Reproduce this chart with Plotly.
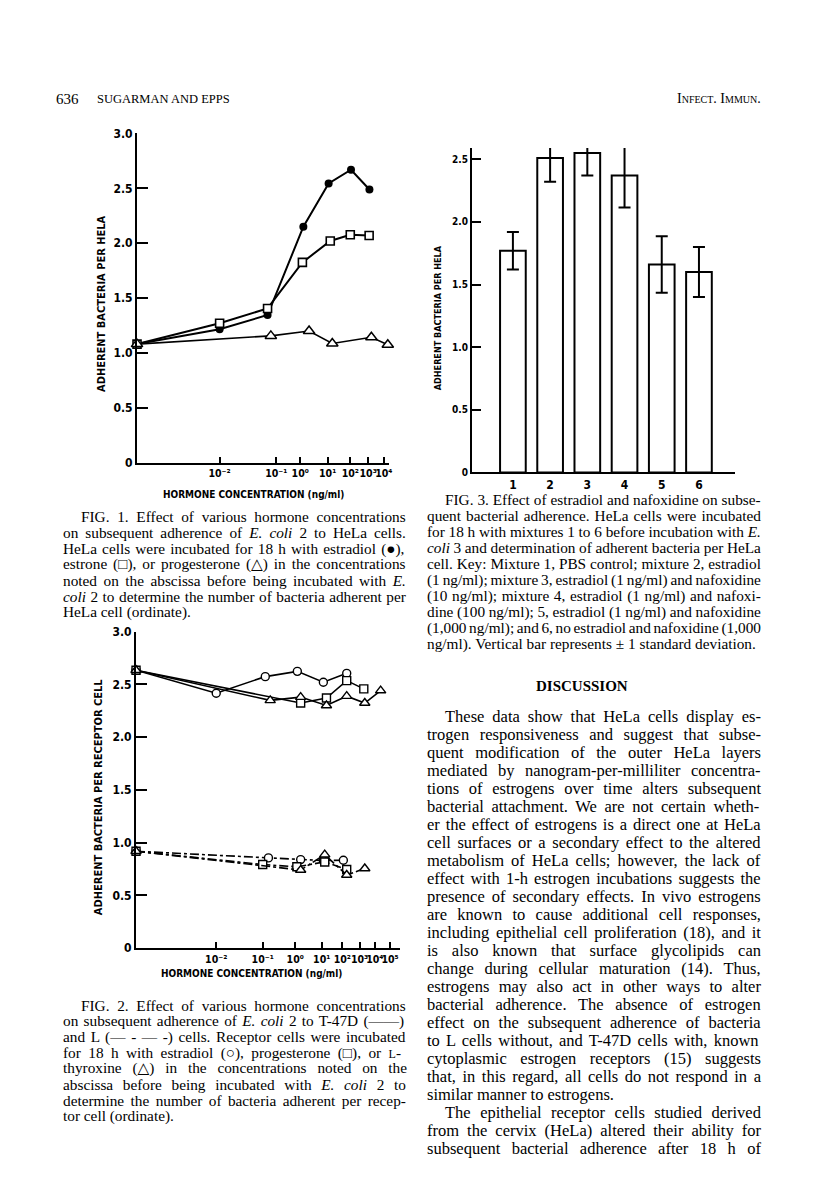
import re
import numpy as np
import plotly.graph_objects as go

# ====================== DATA ======================
# FIG. 1  HeLa cells; hormone concentration in ng/ml (0 = control)
fig1_estradiol_conc = [0, 0.01, 0.07, 1.3, 11, 110, 1200]
fig1_estradiol_adh = [1.08, 1.215, 1.345, 2.15, 2.545, 2.67, 2.49]
fig1_estrone_conc = [0, 0.01, 0.07, 1.2, 13, 100, 1150]
fig1_estrone_adh = [1.08, 1.27, 1.405, 1.825, 2.02, 2.077, 2.07]
fig1_progesterone_conc = [0, 0.08, 2.1, 16, 1600, 18000]
fig1_progesterone_adh = [1.08, 1.155, 1.20, 1.086, 1.143, 1.075]

# FIG. 2  T-47D (solid) and L (dash-dot) cells
fig2_t47d_estradiol_conc = [0, 0.01, 0.12, 1.2, 12, 180]
fig2_t47d_estradiol_adh = [2.634, 2.416, 2.573, 2.623, 2.52, 2.604]
fig2_t47d_progesterone_conc = [0, 1.6, 17, 180, 1900]
fig2_t47d_progesterone_adh = [2.634, 2.323, 2.37, 2.535, 2.457]
fig2_t47d_thyroxine_conc = [0, 0.17, 1.6, 17, 180, 2200, 24000]
fig2_t47d_thyroxine_adh = [2.634, 2.348, 2.379, 2.30, 2.388, 2.323, 2.441]
fig2_l_estradiol_conc = [0, 0.15, 1.6, 12, 115]
fig2_l_estradiol_adh = [0.918, 0.855, 0.839, 0.83, 0.833]
fig2_l_progesterone_conc = [0, 0.1, 1.15, 14, 180]
fig2_l_progesterone_adh = [0.918, 0.792, 0.771, 0.817, 0.745]
fig2_l_thyroxine_conc = [0, 1.6, 14, 180, 2200]
fig2_l_thyroxine_adh = [0.918, 0.74, 0.886, 0.693, 0.755]

# FIG. 3  estradiol / nafoxidine mixtures
fig3_mixtures = ["1", "2", "3", "4", "5", "6"]
fig3_mean = [1.77, 2.51, 2.55, 2.37, 1.66, 1.60]
fig3_sd = [0.15, 0.19, 0.18, 0.255, 0.225, 0.20]

# tick labels
fig1_tick_exponents = [-2, -1, 0, 1, 2, 3, 4]
fig2_tick_exponents = [-2, -1, 0, 1, 2, 3, 4, 5]
adh_ticks_12 = [0, 0.5, 1.0, 1.5, 2.0, 2.5, 3.0]
adh_ticks_3 = [0, 0.5, 1.0, 1.5, 2.0, 2.5]

# ====================== LAYOUT CONSTANTS ======================
W, H = 816, 1194
# the original abscissa is hand-drawn and not uniformly logarithmic:
# axis units at which each decade tick sits
FIG1_TICK_POS = [83, 140, 164, 191.6, 214.3, 232.3, 248]
FIG1_XMAX = 253
FIG2_TICK_POS = [80.6, 127.3, 160, 186.6, 207.3, 224.6, 240, 255.3]
FIG2_XMAX = 265

SANS = "Liberation Sans Narrow, DejaVu Sans Condensed, Arial Narrow, Roboto, sans-serif"
SERIF = "Liberation Serif, Times New Roman, DejaVu Serif, serif"


def dx(px):
    return px / W


def dy(py):
    return 1 - py / H


def warp(conc, exps, pos):
    """concentration -> position on the (distorted) log abscissa; 0 = control at the origin"""
    out = []
    for c in conc:
        if c == 0:
            out.append(0.0)
            continue
        e = float(np.log10(c))
        if e > exps[-1]:
            out.append(pos[-1] + (e - exps[-1]) * (pos[-1] - pos[-2]))
        elif e < exps[0]:
            out.append(pos[0] + (e - exps[0]) * (pos[1] - pos[0]))
        else:
            out.append(float(np.interp(e, exps, pos)))
    return out


SUP = str.maketrans("-0123456789", "\u207b\u2070\u00b9\u00b2\u00b3\u2074\u2075\u2076\u2077\u2078\u2079")


def exp_label(e):
    return "10" + str(e).translate(SUP)


fig = go.Figure()

# ---------- FIG 1 ----------
mk_line = dict(color="black", width=2)
fig.add_trace(go.Scatter(
    x=warp(fig1_estradiol_conc, fig1_tick_exponents, FIG1_TICK_POS), y=fig1_estradiol_adh,
    mode="lines+markers", line=mk_line,
    marker=dict(symbol="circle", size=8, color="black"),
    xaxis="x", yaxis="y", cliponaxis=False, showlegend=False))
fig.add_trace(go.Scatter(
    x=warp(fig1_estrone_conc, fig1_tick_exponents, FIG1_TICK_POS), y=fig1_estrone_adh,
    mode="lines+markers", line=mk_line,
    marker=dict(symbol="square", size=8, color="white", line=dict(color="black", width=1.6)),
    xaxis="x", yaxis="y", cliponaxis=False, showlegend=False))
fig.add_trace(go.Scatter(
    x=warp(fig1_progesterone_conc, fig1_tick_exponents, FIG1_TICK_POS), y=fig1_progesterone_adh,
    mode="lines+markers", line=dict(color="black", width=1.6),
    marker=dict(symbol="triangle-up", size=10, color="white", line=dict(color="black", width=1.5)),
    xaxis="x", yaxis="y", cliponaxis=False, showlegend=False))

# ---------- FIG 2 ----------
f2 = [
    (fig2_t47d_estradiol_conc, fig2_t47d_estradiol_adh, "circle", "solid"),
    (fig2_t47d_progesterone_conc, fig2_t47d_progesterone_adh, "square", "solid"),
    (fig2_t47d_thyroxine_conc, fig2_t47d_thyroxine_adh, "triangle-up", "solid"),
    (fig2_l_estradiol_conc, fig2_l_estradiol_adh, "circle", "dashdot"),
    (fig2_l_progesterone_conc, fig2_l_progesterone_adh, "square", "dashdot"),
    (fig2_l_thyroxine_conc, fig2_l_thyroxine_adh, "triangle-up", "dashdot"),
]
for conc, adh, sym, dash in f2:
    fig.add_trace(go.Scatter(
        x=warp(conc, fig2_tick_exponents, FIG2_TICK_POS), y=adh,
        mode="lines+markers", line=dict(color="black", width=1.6, dash=dash),
        marker=dict(symbol=sym, size=8 if sym != "triangle-up" else 9, color="white",
                    line=dict(color="black", width=1.4)),
        xaxis="x2", yaxis="y2", cliponaxis=False, showlegend=False))

# ---------- FIG 3 ----------
fig.add_trace(go.Bar(
    x=fig3_mixtures, y=fig3_mean, width=0.69,
    marker=dict(color="white", line=dict(color="black", width=2)),
    error_y=dict(type="data", array=fig3_sd, visible=True, color="black", thickness=2, width=6),
    xaxis="x3", yaxis="y3", cliponaxis=False, showlegend=False))

# ---------- axes ----------
tickfont = dict(family=SANS, size=12, color="black", weight="bold")
xtickfont = dict(family=SANS, size=10.5, color="black", weight="bold")
base = dict(showline=True, linecolor="black", linewidth=2, ticks="inside", tickcolor="black",
            tickwidth=2, showgrid=False, zeroline=False, tickfont=tickfont, fixedrange=True)

fig.update_layout(
    width=W, height=H, margin=dict(l=0, r=0, t=0, b=0),
    paper_bgcolor="white", plot_bgcolor="rgba(0,0,0,0)",
    xaxis=dict(base, domain=[dx(137.7), dx(137.7 + FIG1_XMAX)], range=[0, FIG1_XMAX],
               tickvals=FIG1_TICK_POS, ticktext=[exp_label(e) for e in fig1_tick_exponents],
               ticklen=6, tickangle=0, tickfont=xtickfont, anchor="y"),
    yaxis=dict(base, domain=[dy(461), dy(128)], range=[0, 3.0], tickvals=adh_ticks_12,
               ticktext=["0", "0.5", "1.0", "1.5", "2.0", "2.5", "3.0"], ticklen=11, anchor="x"),
    xaxis2=dict(base, domain=[dx(136.7), dx(136.7 + FIG2_XMAX)], range=[0, FIG2_XMAX],
                tickvals=FIG2_TICK_POS, ticktext=[exp_label(e) for e in fig2_tick_exponents],
                ticklen=6, tickangle=0, tickfont=xtickfont, anchor="y2"),
    yaxis2=dict(base, domain=[dy(952.3), dy(632)], range=[0, 3.0], tickvals=adh_ticks_12,
                ticktext=["0", "0.5", "1.0", "1.5", "2.0", "2.5", "3.0"], ticklen=11, anchor="x2"),
    xaxis3=dict(base, domain=[dx(474.3), dx(738.3)], range=[-1.1, 5.96], ticks="",
                tickfont=dict(family=SANS, size=12, color="black", weight="bold"),
                type="category", anchor="y3"),
    yaxis3=dict(base, domain=[dy(471), dy(142.7)], range=[0, 2.59], tickvals=adh_ticks_3,
                ticktext=["0", "0.5", "1.0", "1.5", "2.0", "2.5"], ticklen=9,
                tickfont=dict(family=SANS, size=10, color="black", weight="bold"), anchor="x3"),
)

# ---------- text helpers ----------
TIMES_W = {' ': 250, '!': 333, '(': 333, ')': 333, ',': 250, '-': 333, '.': 250, '/': 278,
           ':': 278, ';': 278, '?': 444, '\u2014': 1000, '\u00b1': 564,
           '\u25cf': 700, '\u25a1': 700, '\u25b3': 700, '\u25cb': 700}
for ch in "0123456789":
    TIMES_W[ch] = 500
TIMES_W.update(dict(zip("ABCDEFGHIJKLMNOPQRSTUVWXYZ",
                        [722, 667, 667, 722, 611, 556, 722, 722, 333, 389, 722, 611, 889,
                         722, 722, 556, 722, 667, 556, 611, 722, 722, 944, 722, 722, 611])))
TIMES_W.update(dict(zip("abcdefghijklmnopqrstuvwxyz",
                        [444, 500, 444, 500, 444, 333, 500, 500, 278, 278, 500, 278, 778,
                         500, 500, 500, 500, 333, 389, 278, 500, 500, 722, 500, 500, 444])))


def natural_width(s, size):
    plain = re.sub(r"<[^>]+>", "", s)
    return sum(TIMES_W.get(c, 500) for c in plain) * size / 1000.0, plain.count(" ")


def justify(s, size, width):
    w, n = natural_width(s, size)
    if n == 0:
        return s
    ws = (width - w) / n
    return "<span style='word-spacing:%.2fpx'>%s</span>" % (ws, s)


ann = []


def text(x, y, s, size=15, family=SERIF, xanchor="left", angle=0, weight="normal"):
    ann.append(dict(x=dx(x), y=dy(y), xref="paper", yref="paper", text=s, showarrow=False,
                    xanchor=xanchor, yanchor="middle", textangle=angle, borderpad=0,
                    font=dict(family=family, size=size, color="black", weight=weight)))


def paragraph_block(lines, x0, x1, indent, y0, step, size, para_starts, para_ends):
    for i, s in enumerate(lines):
        xs = x0 + (indent if i in para_starts else 0)
        if i not in para_ends:
            s = justify(s, size, x1 - xs)
        text(xs, y0 + step * i, s, size=size)


# axis titles
text(102, 300, "ADHERENT BACTERIA PER HELA", size=11, family=SANS, xanchor="center", angle=-90, weight="bold")
text(255, 493, "HORMONE CONCENTRATION (ng/ml)", size=10, family=SANS, xanchor="center", weight="bold")
text(99, 800, "ADHERENT BACTERIA PER RECEPTOR CELL", size=11, family=SANS, xanchor="center", angle=-90, weight="bold")
text(253, 978, "HORMONE CONCENTRATION (ng/ml)", size=10, family=SANS, xanchor="center", weight="bold")
text(440, 314, "ADHERENT BACTERIA PER HELA", size=9, family=SANS, xanchor="center", angle=-90, weight="bold")

# running head
text(55, 93, "636", size=15)
text(96, 93, "SUGARMAN AND EPPS", size=12.5)
sc = "<span style='font-size:%spx'>%s</span>"
text(766, 93, "I" + sc % (10, "NFECT") + ". I" + sc % (10, "MMUN") + ".", size=14, xanchor="right")

LEFT_X0, LEFT_X1 = 62, 405
RIGHT_X0, RIGHT_X1 = 428, 762
INDENT = 18
CAP = 15.3
BODY = 16.5

cap1 = [
    "FIG. 1. Effect of various hormone concentrations",
    "on subsequent adherence of <i>E. coli</i> 2 to HeLa cells.",
    "HeLa cells were incubated for 18 h with estradiol (\u25cf),",
    "estrone (\u25a1), or progesterone (\u25b3) in the concentrations",
    "noted on the abscissa before being incubated with <i>E.</i>",
    "<i>coli</i> 2 to determine the number of bacteria adherent per",
    "HeLa cell (ordinate).",
]
paragraph_block(cap1, LEFT_X0, LEFT_X1, INDENT, 516, 16.0, CAP, {0}, {6})

cap2 = [
    "FIG. 2. Effect of various hormone concentrations",
    "on subsequent adherence of <i>E. coli</i> 2 to T-47D (\u2014\u2014)",
    "and L (\u2014 - \u2014 -) cells. Receptor cells were incubated",
    "for 18 h with estradiol (\u25cb), progesterone (\u25a1), or " + sc % (12, "L") + "-",
    "thyroxine (\u25b3) in the concentrations noted on the",
    "abscissa before being incubated with <i>E. coli</i> 2 to",
    "determine the number of bacteria adherent per recep-",
    "tor cell (ordinate).",
]
paragraph_block(cap2, LEFT_X0, LEFT_X1, INDENT, 1010, 16.0, CAP, {0}, {7})

cap3 = [
    "FIG. 3. Effect of estradiol and nafoxidine on subse-",
    "quent bacterial adherence. HeLa cells were incubated",
    "for 18 h with mixtures 1 to 6 before incubation with <i>E.</i>",
    "<i>coli</i> 3 and determination of adherent bacteria per HeLa",
    "cell. Key: Mixture 1, PBS control; mixture 2, estradiol",
    "(1 ng/ml); mixture 3, estradiol (1 ng/ml) and nafoxidine",
    "(10 ng/ml); mixture 4, estradiol (1 ng/ml) and nafoxi-",
    "dine (100 ng/ml); 5, estradiol (1 ng/ml) and nafoxidine",
    "(1,000 ng/ml); and 6, no estradiol and nafoxidine (1,000",
    "ng/ml). Vertical bar represents \u00b1 1 standard deviation.",
]
paragraph_block(cap3, RIGHT_X0, RIGHT_X1, INDENT, 498, 16.3, CAP, {0}, {9})

text(585, 687, "DISCUSSION", size=15, xanchor="center", weight="bold")

body = [
    "These data show that HeLa cells display es-",
    "trogen responsiveness and suggest that subse-",
    "quent modification of the outer HeLa layers",
    "mediated by nanogram-per-milliliter concentra-",
    "tions of estrogens over time alters subsequent",
    "bacterial attachment. We are not certain wheth-",
    "er the effect of estrogens is a direct one at HeLa",
    "cell surfaces or a secondary effect to the altered",
    "metabolism of HeLa cells; however, the lack of",
    "effect with 1-h estrogen incubations suggests the",
    "presence of secondary effects. In vivo estrogens",
    "are known to cause additional cell responses,",
    "including epithelial cell proliferation (18), and it",
    "is also known that surface glycolipids can",
    "change during cellular maturation (14). Thus,",
    "estrogens may also act in other ways to alter",
    "bacterial adherence. The absence of estrogen",
    "effect on the subsequent adherence of bacteria",
    "to L cells without, and T-47D cells with, known",
    "cytoplasmic estrogen receptors (15) suggests",
    "that, in this regard, all cells do not respond in a",
    "similar manner to estrogens.",
    "The epithelial receptor cells studied derived",
    "from the cervix (HeLa) altered their ability for",
    "subsequent bacterial adherence after 18 h of",
]
paragraph_block(body, RIGHT_X0, RIGHT_X1, INDENT, 718, 18.2, BODY, {0, 22}, {21})

fig.update_layout(annotations=ann)
fig.write_html(
    "out.html",
    config={"displayModeBar": False},
    post_script="document.body.style.margin='0';document.body.style.overflow='hidden';",
)
